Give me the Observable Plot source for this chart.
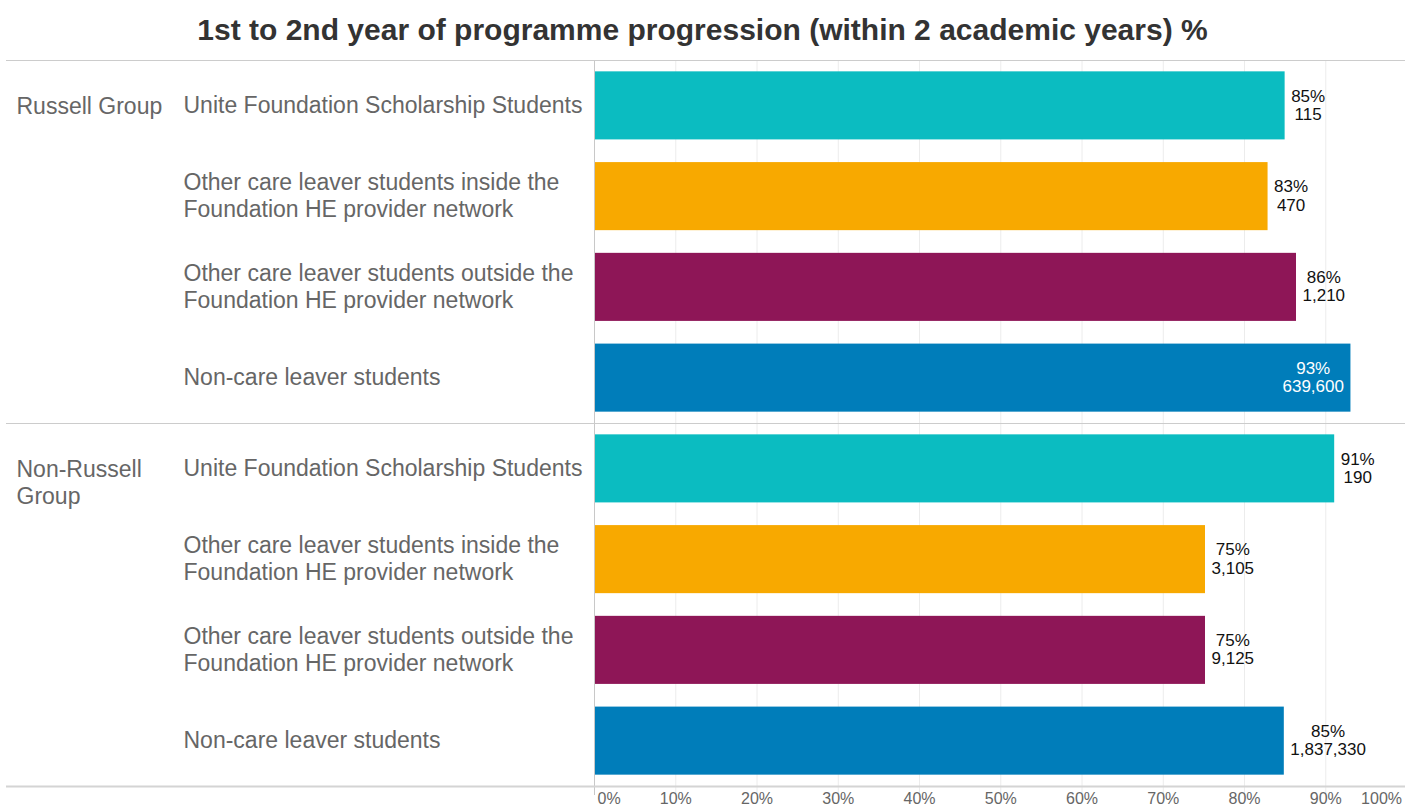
<!DOCTYPE html>
<html><head><meta charset="utf-8">
<script src="https://cdn.jsdelivr.net/npm/d3@7"></script>
<script src="https://cdn.jsdelivr.net/npm/@observablehq/plot@0.6"></script>
<style>
body{margin:0;background:#fff;font-family:"Liberation Sans",Arial,sans-serif;}
#title{height:59px;line-height:60px;text-align:center;font-weight:bold;font-size:30px;color:#333;white-space:nowrap;overflow:hidden;}
#chart svg{display:block;}
</style></head><body>
<div id="title"></div>
<div id="chart"></div>
<script>
const title = "1st to 2nd year of programme progression (within 2 academic years) %";
const groups = ["Russell Group", "Non-Russell\nGroup"];
const categories = [
  "Unite Foundation Scholarship Students",
  "Other care leaver students inside the\nFoundation HE provider network",
  "Other care leaver students outside the\nFoundation HE provider network",
  "Non-care leaver students"
];
const colors = ["#0bbcc1", "#f8a900", "#8e1657", "#007dba"];
const russellRate = [0.850, 0.829, 0.864, 0.931];
const nonRussellRate = [0.911, 0.752, 0.752, 0.849];
const russellCount = [115, 470, 1210, 639600];
const nonRussellCount = [190, 3105, 9125, 1837330];
const xTicks = [0, 0.1, 0.2, 0.3, 0.4, 0.5, 0.6, 0.7, 0.8, 0.9, 1.0];

document.getElementById("title").textContent = title;

const rates = [russellRate, nonRussellRate];
const counts = [russellCount, nonRussellCount];
const rows = groups.flatMap((g, gi) => categories.map((c, ci) => ({
  group: g, category: c, key: gi + "|" + ci, first: ci === 0,
  rate: rates[gi][ci], count: counts[gi][ci]
})));
const firstRows = rows.filter(d => d.first);
const lastRow = [rows[rows.length - 1]];

const W = 1405, H = 753, mt = 1, mb = 26, ml = 594, mr = 0;
const step = (H - mt - mb) / rows.length;
const fmtPct = d3.format(".0%"), fmtN = d3.format(",");
const font = '"Liberation Sans", Arial, sans-serif';

const chart = Plot.plot({
  width: W, height: H,
  marginTop: mt, marginBottom: mb, marginLeft: ml, marginRight: mr,
  style: {fontFamily: font, background: "#fff", overflow: "visible"},
  x: {domain: [0, 1], range: [ml, W + 1.5], axis: null},
  y: {domain: rows.map(d => d.key), paddingInner: 0.25, paddingOuter: 0.125, round: false, axis: null},
  color: {domain: categories, range: colors},
  marks: [
    Plot.ruleX(xTicks.slice(1), {x: d => d, stroke: "#ececec", insetBottom: -8}),
    Plot.barX(rows, {x: "rate", y: "key", fill: "category"}),
    Plot.ruleX([0], {stroke: "#c8c8c8", insetBottom: -9}),
    Plot.ruleY(firstRows, {y: "key", dy: -step / 2, insetLeft: -588, stroke: "#cccccc"}),
    Plot.ruleY(lastRow, {y: "key", dy: step / 2, insetLeft: -588, stroke: "#d4d4d4", strokeWidth: 2}),
    Plot.text(rows, {y: "key", text: "category", frameAnchor: "left", dx: -411, dy: -2, textAnchor: "start",
      fontSize: 23, fill: "#666", lineHeight: 1.18}),
    Plot.text(firstRows, {y: "key", text: "group", frameAnchor: "left", dx: -578, textAnchor: "start",
      lineAnchor: "top", dy: -11.5, fontSize: 23, fill: "#666", lineHeight: 1.18}),
    Plot.text(rows, {x: "rate", y: "key", text: d => fmtPct(d.rate) + "\n" + fmtN(d.count),
      textAnchor: "middle", fontSize: 17, fill: "#111", lineHeight: 1.08, dy: -1, ariaDescription: "value-labels"}),
    Plot.text(xTicks.slice(0, 1), {x: d => d, text: d => fmtPct(d), frameAnchor: "bottom", dy: 17, dx: 3,
      textAnchor: "start", fontSize: 16, fill: "#666"}),
    Plot.text(xTicks.slice(1, -1), {x: d => d, text: d => fmtPct(d), frameAnchor: "bottom", dy: 17,
      textAnchor: "middle", fontSize: 16, fill: "#666"}),
    Plot.text(xTicks.slice(-1), {x: d => d, text: d => fmtPct(d), frameAnchor: "bottom", dy: 17, dx: -5,
      textAnchor: "end", fontSize: 16, fill: "#666"})
  ]
});
document.getElementById("chart").appendChild(chart);

// place value labels beside the bar end (or inside when they would not fit)
chart.querySelectorAll('g[aria-description="value-labels"] text').forEach(el => {
  const w = el.getBBox().width;
  const m = /translate\(([-\d.]+),/.exec(el.getAttribute("transform"));
  const x = m ? +m[1] : 0;
  let shift;
  if (x + 6 + w > W - 2) { shift = -(w / 2 + 7); el.setAttribute("fill", "#fff"); }
  else shift = w / 2 + 6;
  el.setAttribute("transform", el.getAttribute("transform") + ` translate(${shift},0)`);
});
</script>
</body></html>
